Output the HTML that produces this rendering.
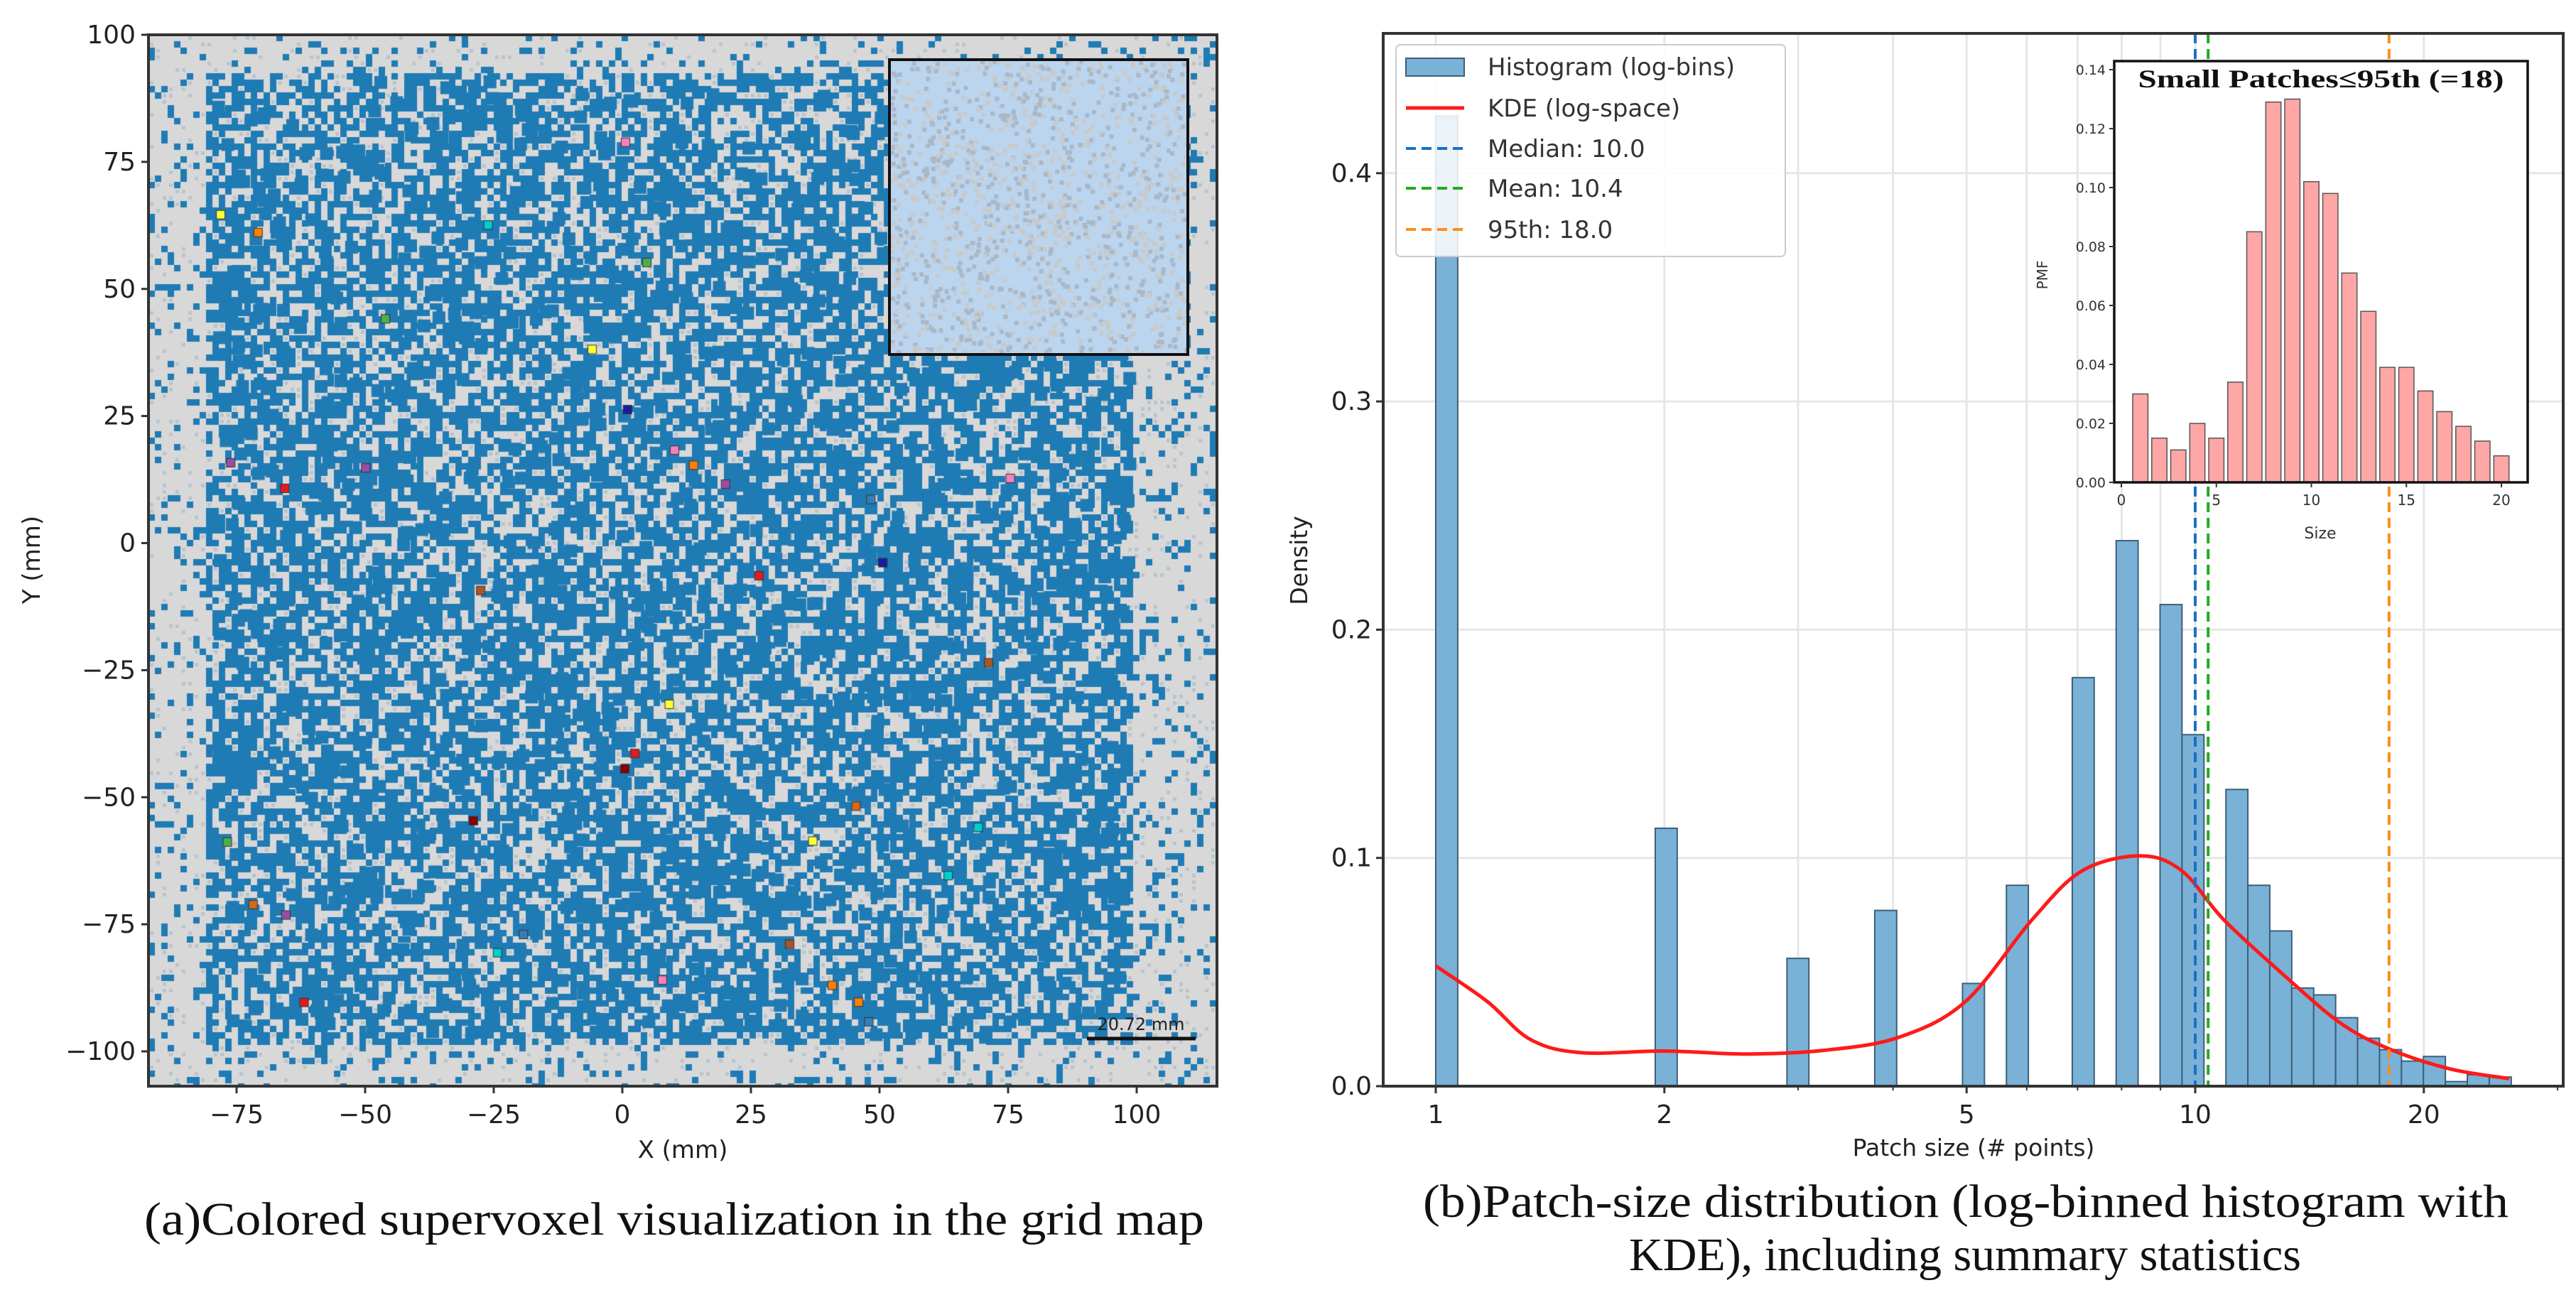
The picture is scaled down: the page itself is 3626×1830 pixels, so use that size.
<!DOCTYPE html>
<html><head><meta charset="utf-8"><style>
html,body{margin:0;padding:0;background:#fff;}
#wrap{position:relative;width:3626px;height:1830px;overflow:hidden;}
#map{position:absolute;left:209px;top:49px;}
svg{position:absolute;left:0;top:0;}
text{font-family:"DejaVu Sans","Liberation Sans",sans-serif;}
.serif{font-family:"Liberation Serif","DejaVu Serif",serif;}
</style></head><body>
<div id="wrap">
<canvas id="map" width="1504" height="1480"></canvas>
<svg id="svg" width="3626" height="1830" xmlns="http://www.w3.org/2000/svg"></svg>
</div>
<script>
// ---------- data: right histogram (log-binned) ----------
const binIndex=[0,10,16,20,24,26,29,31,33,34,36,37,38,39,40,41,42,43,44,45,46,47,48];
const binDensity=[0.425,0.113,0.056,0.077,0.045,0.088,0.179,0.239,0.211,0.154,0.130,0.088,0.068,0.043,0.040,0.030,0.021,0.016,0.011,0.013,0.002,0.005,0.004];
const kdeSize=[1,1.17,1.33,1.55,2.0,2.57,3.24,4.06,4.98,6.1,7.1,8.47,9.6,10.9,13.1,15.6,18.2,21.7,25.9];
const kdeDensity=[0.0527,0.037,0.0206,0.0147,0.0154,0.0141,0.0157,0.0213,0.037,0.073,0.0944,0.1009,0.0944,0.073,0.0485,0.0272,0.0157,0.0075,0.0033];
const statNames=["Median: 10.0","Mean: 10.4","95th: 18.0"];
const statValues=[10.0,10.4,18.0];
const yTicksMain=[0.0,0.1,0.2,0.3,0.4];
const xTicksMain=[1,2,5,10,20];
// ---------- data: inset PMF ----------
const insetSizes=[1,2,3,4,5,6,7,8,9,10,11,12,13,14,15,16,17,18,19,20];
const insetPMF=[0.030,0.015,0.011,0.020,0.015,0.034,0.085,0.129,0.130,0.102,0.098,0.071,0.058,0.039,0.039,0.031,0.024,0.019,0.014,0.009];
const insetYTicks=[0,0.02,0.04,0.06,0.08,0.10,0.12,0.14];
const insetXTicks=[0,5,10,15,20];
// ---------- data: left map ticks ----------
const mapXTicks=[-75,-50,-25,0,25,50,75,100];
const mapYTicks=[100,75,50,25,0,-25,-50,-75,-100];

const NS="http://www.w3.org/2000/svg";
const svg=document.getElementById('svg');
function el(tag,attrs,parent,txt){const e=document.createElementNS(NS,tag);for(const k in attrs)e.setAttribute(k,attrs[k]);if(txt!==undefined)e.textContent=txt;(parent||svg).appendChild(e);return e;}

// ===== Right main axes =====
const R={l:1947,r:3608,t:47,b:1529};
const BINW=0.0289;
function rx(v){return 2021+Math.log10(v)*1069;}
function rxl(lg){return 2021+lg*1069;}
function ry(v){return 1529-v*3213;}
const gR=el('g',{});


el('rect',{x:R.l,y:R.t,width:R.r-R.l,height:R.b-R.t,fill:'#fff'},gR);
const gridVals=[1,2,3,4,5,6,7,8,9,10,20];
gridVals.forEach(v=>{const g=el('line',{x1:rx(v),x2:rx(v),y1:R.t,y2:R.b,stroke:'#e6e6e6','stroke-width':3},gR);});
yTicksMain.forEach(v=>{const g=el('line',{x1:R.l,x2:R.r,y1:ry(v),y2:ry(v),stroke:'#e6e6e6','stroke-width':3},gR);});
binIndex.forEach((bi,i)=>{const x0=rxl(bi*BINW),x1=rxl((bi+1)*BINW);const b=el('rect',{x:x0,y:ry(binDensity[i]),width:x1-x0,height:ry(0)-ry(binDensity[i]),fill:'#7ab1d6',stroke:'#3d5f78','stroke-width':2},gR);
});
// kde (smooth Catmull-Rom)
const P=kdeSize.map((s,i)=>[rx(s),ry(kdeDensity[i])]);
let d='M'+P[0][0].toFixed(1)+','+P[0][1].toFixed(1);
for(let i=0;i<P.length-1;i++){const p0=P[Math.max(0,i-1)],p1=P[i],p2=P[i+1],p3=P[Math.min(P.length-1,i+2)];
const c1=[p1[0]+(p2[0]-p0[0])/6,p1[1]+(p2[1]-p0[1])/6],c2=[p2[0]-(p3[0]-p1[0])/6,p2[1]-(p3[1]-p1[1])/6];
d+=' C'+c1[0].toFixed(1)+','+c1[1].toFixed(1)+' '+c2[0].toFixed(1)+','+c2[1].toFixed(1)+' '+p2[0].toFixed(1)+','+p2[1].toFixed(1);}
const kde=el('path',{d:d,fill:'none',stroke:'#ff1a1a','stroke-width':5,'stroke-linejoin':'round'},gR);

const statColors=['#1a6fc4','#22aa22','#ff8c1a'];
statValues.forEach((v,i)=>{const l=el('line',{x1:rx(v),x2:rx(v),y1:R.t,y2:R.b,stroke:statColors[i],'stroke-width':4,'stroke-dasharray':'14,8'},gR);});
el('rect',{x:R.l,y:R.t,width:R.r-R.l,height:R.b-R.t,fill:'none',stroke:'#333','stroke-width':4},gR);
yTicksMain.forEach(v=>{el('line',{x1:R.l-10,x2:R.l,y1:ry(v),y2:ry(v),stroke:'#333','stroke-width':3},gR);const t=el('text',{x:R.l-16,y:ry(v)+12,'text-anchor':'end','font-size':36,fill:'#222'},gR,v.toFixed(1));});
xTicksMain.forEach(v=>{el('line',{x1:rx(v),x2:rx(v),y1:R.b,y2:R.b+10,stroke:'#333','stroke-width':3},gR);const t=el('text',{x:rx(v),y:R.b+52,'text-anchor':'middle','font-size':36,fill:'#222'},gR,String(v));});
[3,4,6,7,8,9,30].forEach(v=>{if(rx(v)<R.r)el('line',{x1:rx(v),x2:rx(v),y1:R.b,y2:R.b+6,stroke:'#333','stroke-width':2},gR);});
const xt=el('text',{x:2778,y:1627,'text-anchor':'middle','font-size':33,fill:'#222'},gR,'Patch size (# points)');

const yt=el('text',{x:0,y:0,'text-anchor':'middle','font-size':33,fill:'#222',transform:'translate(1840,789) rotate(-90)'},gR,'Density');

const lg=el('g',{},gR);
el('rect',{x:1965,y:63,width:548,height:298,rx:6,fill:'#fff','fill-opacity':0.85,stroke:'#ccc','stroke-width':2},lg);
const rows=[94,152,209,265,323];
el('rect',{x:1979,y:82,width:82,height:25,fill:'#7ab1d6',stroke:'#3d5f78','stroke-width':2},lg);
el('line',{x1:1979,x2:2061,y1:rows[1],y2:rows[1],stroke:'#ff1a1a','stroke-width':5},lg);
statColors.forEach((c,i)=>el('line',{x1:1979,x2:2061,y1:rows[i+2],y2:rows[i+2],stroke:c,'stroke-width':4,'stroke-dasharray':'14,8'},lg));
const labels=['Histogram (log-bins)','KDE (log-space)'].concat(statNames);
labels.forEach((s,i)=>{const t=el('text',{x:2094,y:rows[i]+12,'font-size':34,fill:'#333'},lg,s);});

// ===== Inset =====
const I={l:2976,r:3558,t:86,b:679};
function ix(v){return 2986+v*26.75;}
function iy(v){return 679-v*(581/0.14);}
const gI=el('g',{});
el('rect',{x:I.l,y:I.t,width:I.r-I.l,height:I.b-I.t,fill:'#fff'},gI);
insetSizes.forEach((s,i)=>{const b=el('rect',{x:ix(s-0.4),y:iy(insetPMF[i]),width:26.75*0.8,height:iy(0)-iy(insetPMF[i]),fill:'#ffa6a6',stroke:'#555','stroke-width':1.5},gI);});
el('rect',{x:I.l,y:I.t,width:I.r-I.l,height:I.b-I.t,fill:'none',stroke:'#111','stroke-width':3.5},gI);
insetYTicks.forEach(v=>{el('line',{x1:I.l-7,x2:I.l,y1:iy(v),y2:iy(v),stroke:'#333','stroke-width':2},gI);el('text',{x:I.l-12,y:iy(v)+7,'text-anchor':'end','font-size':19,fill:'#333'},gI,v.toFixed(2));});
insetXTicks.forEach(v=>{el('line',{x1:ix(v),x2:ix(v),y1:I.b,y2:I.b+7,stroke:'#333','stroke-width':2},gI);el('text',{x:ix(v),y:I.b+32,'text-anchor':'middle','font-size':20,fill:'#333'},gI,String(v));});
el('text',{x:3266,y:758,'text-anchor':'middle','font-size':22,fill:'#333'},gI,'Size');
el('text',{x:0,y:0,'text-anchor':'middle','font-size':20,fill:'#333',transform:'translate(2882,387) rotate(-90)'},gI,'PMF');
const it=el('text',{x:3267,y:123,'text-anchor':'middle','font-size':36,'font-weight':'bold',fill:'#111',class:'serif',textLength:515,lengthAdjust:'spacingAndGlyphs'},gI,'Small Patches≤95th (=18)');


// ===== Left map axes =====
const L={l:209,r:1713,t:49,b:1529};
function mx(v){return 876+v*7.24;}
function my(v){return 764.5-v*7.155;}
const gL=el('g',{});
el('rect',{x:1252,y:84,width:420,height:415,fill:'none',stroke:'#111','stroke-width':4},gL);
el('line',{x1:1530,x2:1683,y1:1462,y2:1462,stroke:'#111','stroke-width':5},gL);
const sb=el('text',{x:1606,y:1450,'text-anchor':'middle','font-size':24,fill:'#222'},gL,'20.72 mm');
el('rect',{x:L.l,y:L.t,width:L.r-L.l,height:L.b-L.t,fill:'none',stroke:'#333','stroke-width':4},gL);
mapXTicks.forEach(v=>{el('line',{x1:mx(v),x2:mx(v),y1:L.b,y2:L.b+10,stroke:'#333','stroke-width':3},gL);const t=el('text',{x:mx(v),y:L.b+52,'text-anchor':'middle','font-size':36,fill:'#222'},gL,(v<0?'\u2212':'')+Math.abs(v));});
mapYTicks.forEach(v=>{el('line',{x1:L.l-10,x2:L.l,y1:my(v),y2:my(v),stroke:'#333','stroke-width':3},gL);const t=el('text',{x:L.l-18,y:my(v)+12,'text-anchor':'end','font-size':36,fill:'#222'},gL,(v<0?'\u2212':'')+Math.abs(v));});
const mxt=el('text',{x:961,y:1630,'text-anchor':'middle','font-size':34,fill:'#222'},gL,'X (mm)');
const myt=el('text',{x:0,y:0,'text-anchor':'middle','font-size':34,fill:'#222',transform:'translate(56,788) rotate(-90)'},gL,'Y (mm)');

const ca=el('text',{x:203,y:1738,'font-size':66,fill:'#111',class:'serif',textLength:1492,lengthAdjust:'spacingAndGlyphs'},svg,'(a)Colored supervoxel visualization in the grid map');

const cb1=el('text',{x:2003,y:1713,'font-size':66,fill:'#111',class:'serif',textLength:1528,lengthAdjust:'spacingAndGlyphs'},svg,'(b)Patch-size distribution (log-binned histogram with');

const cb2=el('text',{x:2766,y:1788,'font-size':66,fill:'#111',class:'serif','text-anchor':'middle'},svg,'KDE), including summary statistics');


// ===== Map texture (canvas) =====
const cv=document.getElementById('map');const c=cv.getContext('2d');
let seed=12345;function rnd(){seed=(seed*1103515245+12345)&0x7fffffff;return seed/0x7fffffff;}
c.fillStyle='#d8d8d8';c.fillRect(0,0,1504,1480);
const cell=9;
for(let py=0;py<1480;py+=cell){for(let px=0;px<1504;px+=cell){
  const X=(px+209-876)/7.24, Y=(764.5-(py+49))/7.155;
  const inner=X>-82&&X<99&&Y>-98&&Y<93;
  const n=0.5*Math.sin(X*0.21+Y*0.13)*Math.cos(Y*0.17-X*0.05);
  let p=inner?0.6+0.15*n:0.13;
  const r=rnd();
  if(r<p){c.fillStyle='#1f7bb4';c.fillRect(px,py,cell,cell);}
  else if(r<p+0.12){c.fillStyle='#b9c4cc';c.fillRect(px+2,py+2,5,5);}
}}
c.fillStyle='#1f7bb4';
for(let k=0;k<900;k++){const X=-80+rnd()*178,Y=-96+rnd()*188;const px=mx(X)-209,py=my(Y)-49;c.fillRect(px,py,cell*2,cell*2);}
c.fillStyle='#bcd5ee';c.fillRect(1252-209,84-49,420,415);
for(let k=0;k<1400;k++){c.fillStyle=rnd()<0.5?'#c9c9c9':'#a8b8c8';c.fillRect(1252-209+rnd()*416,84-49+rnd()*410,6,6);}
const cols=['#e41a1c','#ff7f00','#984ea3','#4daf4a','#377eb8','#f781bf','#a65628','#ffff33','#00ced1','#1a1aa0','#8b0000','#d2691e'];
for(let k=0;k<45;k++){const X=-80+rnd()*178,Y=-96+rnd()*188;if(X>52&&Y>37)continue;c.fillStyle=cols[k%cols.length];c.fillRect(mx(X)-209,my(Y)-49,12,12);c.strokeStyle='#333';c.strokeRect(mx(X)-209,my(Y)-49,12,12);}
</script>
</body></html>
